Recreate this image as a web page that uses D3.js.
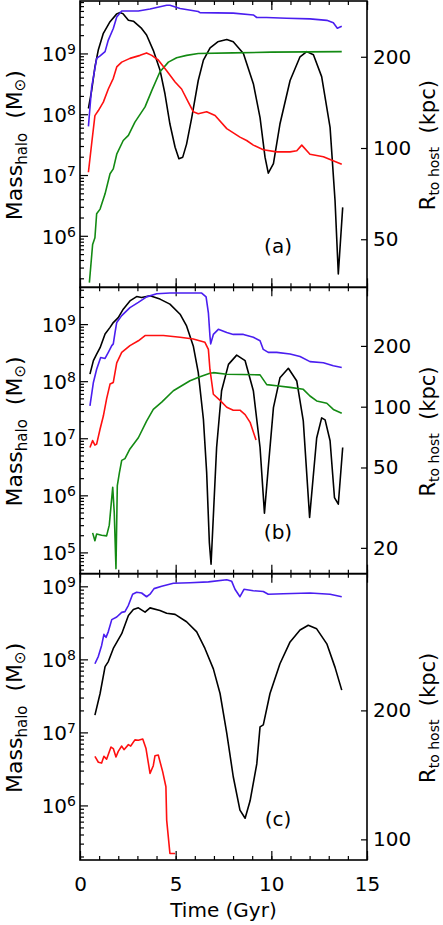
<!DOCTYPE html>
<html>
<head>
<meta charset="utf-8">
<script src="https://cdn.jsdelivr.net/npm/d3@7"></script>
<style>
  body { margin: 0; background: #fff; }
  text { font-family: "DejaVu Sans", sans-serif; fill: #000; }
</style>
</head>
<body>
<svg id="chart" width="443" height="925"></svg>
<script>
// Three stacked panels: halo mass (left log axis) and distance to host (right log axis) vs time

// ---- data: [time (Gyr), value] ----
const blueA = [[0.44,6.3e7],[0.61,2.8e8],[0.87,8.3e8],[1.05,9.1e8],[1.31,1.07e9],[1.48,1.66e9],[1.74,2.57e9],
  [1.92,3.98e9],[2.18,5.0e9],[3.05,5.0e9],[3.66,5.4e9],[4.53,6.2e9],[4.70,6.2e9],[5.23,5.5e9],[6.18,4.9e9],
  [6.27,4.7e9],[8.01,4.6e9],[9.06,4.3e9],[9.24,3.9e9],[9.75,3.9e9],[10.80,3.8e9],[12.02,3.7e9],[12.9,3.5e9],
  [13.24,3.2e9],[13.45,2.6e9],[13.68,2.8e9]];
const redA = [[0.44,1.11e7],[0.61,3.3e7],[0.78,9.5e7],[0.96,1.15e8],[1.22,1.58e8],[1.48,2.6e8],[1.74,3.9e8],
  [1.92,6.0e8],[2.18,7.2e8],[2.61,8.3e8],[3.14,9.3e8],[3.48,1.02e9],[3.75,9.3e8],[4.09,7.8e8],[4.53,5.2e8],
  [4.97,3.4e8],[5.31,2.6e8],[5.66,1.58e8],[5.92,1.10e8],[6.18,1.02e8],[6.62,1.10e8],[7.06,9.5e7],[7.67,5.8e7],
  [8.36,4.2e7],[8.71,3.7e7],[9.06,3.1e7],[9.58,2.6e7],[10.28,2.4e7],[10.98,2.4e7],[11.33,2.5e7],[11.59,3.1e7],
  [12.02,2.2e7],[12.72,2.0e7],[13.68,1.5e7]];
const greenA = [[0.49,1.7e5],[0.66,7.2e5],[0.78,9.3e5],[0.87,2.3e6],[1.05,2.75e6],[1.31,4.9e6],[1.57,1.05e7],
  [1.74,1.26e7],[1.92,2.2e7],[2.26,3.7e7],[2.53,4.5e7],[2.87,7.4e7],[3.40,1.32e8],[3.75,2.45e8],[4.18,5.0e8],
  [4.62,7.2e8],[5.05,8.5e8],[5.57,9.3e8],[6.18,1.0e9],[8.0,1.02e9],[10.0,1.05e9],[13.68,1.07e9]];
const distA = [[0.44,135],[0.61,155],[0.78,185],[0.96,211],[1.22,239],[1.57,261],[1.92,277],[2.09,280],
  [2.26,277],[2.53,264],[2.79,262],[3.22,248],[3.48,236],[3.83,210],[4.18,181],[4.44,151],[4.70,120],
  [4.97,100.6],[5.17,92.2],[5.37,93.3],[5.57,103],[5.84,126],[6.18,167],[6.45,195],[6.8,214],[7.2,224],
  [7.67,228],[8.01,224],[8.54,205],[9.06,163],[9.41,126],[9.67,93.3],[9.84,82.6],[10.11,88.8],[10.45,120],
  [10.98,167],[11.50,200],[11.85,208],[12.20,203],[12.63,172],[13.07,117],[13.33,67],[13.50,38.4],[13.73,63.7]];

const blueB = [[0.52,3.7e7],[0.70,9.5e7],[0.87,1.62e8],[1.08,2.6e8],[1.31,2.5e8],[1.48,3.2e8],[1.66,4.2e8],
  [1.74,4.5e8],[1.83,7.1e8],[1.92,1.07e9],[2.18,1.41e9],[2.61,1.95e9],[3.05,2.4e9],[3.48,3.0e9],[4.01,3.4e9],
  [4.70,3.5e9],[6.36,3.5e9],[6.59,3.0e9],[6.71,1.58e9],[6.79,6.3e8],[6.83,4.5e8],[6.97,6.6e8],[7.23,8.1e8],
  [7.67,7.1e8],[8.01,6.6e8],[8.54,6.6e8],[9.06,5.9e8],[9.41,5.1e8],[9.58,3.6e8],[9.84,3.2e8],[10.28,3.2e8],
  [10.98,3.0e8],[11.50,2.7e8],[12.02,2.2e8],[12.72,2.1e8],[13.24,1.86e8],[13.68,1.74e8]];
const redB = [[0.52,6.9e6],[0.66,9.1e6],[0.78,7.6e6],[0.87,7.9e6],[1.05,1.45e7],[1.22,2.45e7],[1.39,4.9e7],
  [1.57,8.9e7],[1.74,9.5e7],[1.92,2.1e8],[2.18,3.2e8],[2.61,4.2e8],[3.05,5.1e8],[3.40,6.3e8],[4.36,6.3e8],
  [5.23,5.9e8],[5.92,5.5e8],[6.53,4.8e8],[6.71,3.6e8],[6.79,1.62e8],[6.97,5.9e7],[7.32,4.6e7],[7.67,3.5e7],
  [8.01,3.1e7],[8.36,3.1e7],[8.63,2.6e7],[8.89,1.9e7],[9.20,9.3e6]];
const greenB = [[0.66,2.2e5],[0.78,1.6e5],[0.87,2.1e5],[1.13,2.0e5],[1.39,1.95e5],[1.53,3.0e5],[1.71,1.38e6],
  [1.79,5.0e5],[1.88,5.2e4],[1.95,1.48e6],[2.06,2.5e6],[2.18,4.1e6],[2.35,4.4e6],[2.61,6.5e6],[3.05,1.02e7],
  [3.48,2.0e7],[3.83,3.2e7],[4.27,4.3e7],[4.88,6.8e7],[5.75,1.02e8],[6.27,1.2e8],[6.79,1.38e8],[6.97,1.41e8],
  [7.67,1.32e8],[9.41,1.29e8],[9.76,8.7e7],[10.28,8.3e7],[10.98,7.8e7],[11.67,7.2e7],[12.02,5.5e7],
  [12.37,4.5e7],[12.90,4.1e7],[13.24,3.2e7],[13.68,2.75e7]];
const distB = [[0.52,145],[0.70,169],[0.87,182],[1.05,196],[1.31,229],[1.57,247],[1.74,261],[2.00,276],
  [2.26,304],[2.61,334],[2.96,351],[3.22,347],[3.66,354],[4.18,341],[4.70,322],[5.23,287],[5.57,251],
  [5.92,200],[6.18,148],[6.45,86.7],[6.62,47.2],[6.76,21.3],[6.85,16.6],[7.14,62.8],[7.40,120],[7.76,162],
  [8.19,180],[8.63,169],[9.06,120],[9.41,62.8],[9.64,29.7],[9.84,50],[10.11,99],[10.45,139],[10.89,155],
  [11.33,134],[11.67,85],[12.00,28.3],[12.37,70],[12.63,88],[12.81,86],[13.07,67.8],[13.30,35.5],
  [13.50,32.9],[13.73,62.8]];

const blueC = [[0.78,8.7e7],[0.96,1.1e8],[1.13,1.55e8],[1.25,2.2e8],[1.36,2.0e8],[1.48,2.4e8],[1.66,3.5e8],
  [1.92,3.8e8],[2.18,4.4e8],[2.35,4.5e8],[2.53,5.5e8],[2.75,7.8e8],[2.96,8.3e8],[3.22,8.1e8],[3.48,7.2e8],
  [3.66,7.8e8],[3.87,9.3e8],[4.27,1.0e9],[4.88,1.10e9],[5.75,1.12e9],[6.71,1.15e9],[7.67,1.23e9],[7.93,1.17e9],
  [8.10,9.1e8],[8.36,7.2e8],[8.57,9.1e8],[9.06,8.7e8],[9.58,8.5e8],[9.84,7.8e8],[10.63,7.9e8],[12.02,8.1e8],
  [13.07,7.8e8],[13.68,7.2e8]];
const redC = [[0.78,4.7e6],[0.96,3.9e6],[1.13,3.8e6],[1.25,4.7e6],[1.39,4.3e6],[1.62,6.3e6],[1.74,6.0e6],
  [1.88,4.6e6],[2.00,5.5e6],[2.18,6.5e6],[2.30,5.8e6],[2.53,6.8e6],[2.65,6.5e6],[2.87,7.9e6],[3.05,7.8e6],
  [3.28,8.1e6],[3.45,6.0e6],[3.66,2.75e6],[3.83,3.5e6],[3.92,4.8e6],[4.09,4.9e6],[4.32,2.9e6],[4.49,1.8e6],
  [4.53,6.3e5],[4.70,2.2e5],[4.97,2.2e5]];
const distC = [[0.78,195],[1.05,219],[1.31,253],[1.48,260],[1.74,279],[2.18,302],[2.53,333],[2.79,344],
  [3.05,347],[3.40,339],[3.66,347],[4.18,342],[4.53,337],[4.97,335],[5.57,322],[6.10,305],[6.53,279],
  [6.97,250],[7.32,219],[7.67,177],[8.01,140],[8.36,117],[8.63,112],[8.89,123],[9.24,150],[9.41,183],
  [9.58,185],[9.93,219],[10.45,257],[10.98,289],[11.50,308],[11.93,316],[12.37,310],[12.90,286],
  [13.33,252],[13.68,223]];

const timeTicks = [0, 5, 10, 15];
const timeMinorTicks = d3.range(0, 16);
const massTicksA = [1e6, 1e7, 1e8, 1e9];
const massTicksB = [1e5, 1e6, 1e7, 1e8, 1e9];
const massTicksC = [1e6, 1e7, 1e8, 1e9];
const distTicksA = [50, 100, 200];
const distTicksB = [20, 50, 100, 200];
const distTicksC = [100, 200];
const panelLabels = ["(a)", "(b)", "(c)"];

// ---- panel setup (axis ranges) ----
const panels = [
  { label: panelLabels[0], massDomain: [1.42e5, 7.29e9], distDomain: [34.7, 305.5],
    massTicks: massTicksA, distTicks: distTicksA, blue: blueA, red: redA, green: greenA, dist: distA },
  { label: panelLabels[1], massDomain: [4.24e4, 4.41e9], distDomain: [14.9, 390],
    massTicks: massTicksB, distTicks: distTicksB, blue: blueB, red: redB, green: greenB, dist: distB },
  { label: panelLabels[2], massDomain: [1.79e5, 1.49e9], distDomain: [89.5, 417],
    massTicks: massTicksC, distTicks: distTicksC, blue: blueC, red: redC, green: null, dist: distC }
];

const colors = { blue: "#4a1ef0", red: "#ff1010", green: "#138a13", dist: "#000" };

const svg = d3.select("#chart");
const plotLeft = 80, plotRight = 367, plotTop = 1, plotBottom = 860;
const panelH = (plotBottom - plotTop) / panels.length;

const xScale = d3.scaleLinear().domain([0, 15]).range([plotLeft, plotRight]);

function minorLogTicks(domain) {
  const out = [];
  for (let e = Math.floor(Math.log10(domain[0])); e <= Math.ceil(Math.log10(domain[1])); e++) {
    for (let k = 2; k <= 9; k++) {
      const v = k * Math.pow(10, e);
      if (v > domain[0] && v < domain[1]) out.push(v);
    }
  }
  return out;
}

function styleAxis(sel) {
  sel.select(".domain").remove();
  sel.selectAll(".tick line").attr("stroke", "#000").attr("stroke-width", 1.2);
}

panels.forEach((p, i) => {
  const y0 = plotTop + i * panelH;
  const y1 = y0 + panelH;
  const g = svg.append("g").attr("class", "panel");

  const mScale = d3.scaleLog().domain(p.massDomain).range([y1, y0]);
  const rScale = d3.scaleLog().domain(p.distDomain).range([y1, y0]);

  g.append("clipPath").attr("id", "clip" + i)
    .append("rect").attr("x", plotLeft).attr("y", y0)
    .attr("width", plotRight - plotLeft).attr("height", panelH);

  // x ticks on top and bottom of every panel, pointing inward
  [[d3.axisBottom, y1], [d3.axisTop, y0]].forEach(([axisFn, yy]) => {
    g.append("g").attr("transform", `translate(0,${yy})`)
      .call(axisFn(xScale).tickValues(timeMinorTicks).tickSize(-4).tickFormat(""))
      .call(styleAxis);
    g.append("g").attr("transform", `translate(0,${yy})`)
      .call(axisFn(xScale).tickValues(timeTicks).tickSize(-9).tickFormat(""))
      .call(styleAxis);
  });

  // left mass axis
  g.append("g").attr("transform", `translate(${plotLeft},0)`)
    .call(d3.axisLeft(mScale).tickValues(minorLogTicks(p.massDomain)).tickSize(-4).tickFormat(""))
    .call(styleAxis);
  g.append("g").attr("transform", `translate(${plotLeft},0)`)
    .call(d3.axisLeft(mScale).tickValues(p.massTicks).tickSize(-8).tickFormat(""))
    .call(styleAxis);

  p.massTicks.forEach(v => {
    const t = g.append("text")
      .attr("x", plotLeft - 4)
      .attr("y", mScale(v) + 8)
      .attr("text-anchor", "end")
      .style("font-size", "20px");
    t.append("tspan").text("10");
    t.append("tspan").attr("dy", -7).style("font-size", "14px").text(Math.round(Math.log10(v)));
  });

  // right distance axis
  g.append("g").attr("transform", `translate(${plotRight},0)`)
    .call(d3.axisRight(rScale).tickValues(p.distTicks).tickSize(-6).tickPadding(6).tickFormat(d3.format("d")))
    .call(styleAxis)
    .selectAll("text")
    .style("font-size", "20px")
    .style("font-family", "DejaVu Sans, sans-serif");

  // lines
  const massLine = d3.line().x(d => xScale(d[0])).y(d => mScale(d[1]));
  const distLine = d3.line().x(d => xScale(d[0])).y(d => rScale(d[1]));
  const lines = g.append("g").attr("clip-path", `url(#clip${i})`);

  lines.append("path").datum(p.dist).attr("d", distLine)
    .attr("fill", "none").attr("stroke", colors.dist).attr("stroke-width", 1.6)
    .attr("stroke-linejoin", "round");
  ["green", "red", "blue"].filter(key => p[key]).forEach(key => {
    lines.append("path").datum(p[key]).attr("d", massLine)
      .attr("fill", "none").attr("stroke", colors[key]).attr("stroke-width", 1.6)
      .attr("stroke-linejoin", "round");
  });

  // frame
  g.append("rect").attr("x", plotLeft).attr("y", y0)
    .attr("width", plotRight - plotLeft).attr("height", panelH)
    .attr("fill", "none").attr("stroke", "#000").attr("stroke-width", 1.6);

  // panel label
  g.append("text")
    .attr("x", xScale(10.35)).attr("y", y0 + 252)
    .attr("text-anchor", "middle").style("font-size", "20px")
    .text(p.label);

  // left title
  const cy = (y0 + y1) / 2 + 1;
  const lt = g.append("text")
    .attr("transform", `translate(22,${cy}) rotate(-90)`)
    .attr("text-anchor", "middle").style("font-size", "22px");
  lt.append("tspan").text("Mass");
  lt.append("tspan").attr("dy", 5).style("font-size", "15px").text("halo");
  lt.append("tspan").attr("dy", -5).text("\u00a0\u00a0(M");
  lt.append("tspan").attr("dy", 3).style("font-size", "15px").text("\u2299");
  lt.append("tspan").attr("dy", -3).text(")");

  // right title
  const rt = g.append("text")
    .attr("transform", `translate(435,${cy}) rotate(-90)`)
    .attr("text-anchor", "middle").style("font-size", "21px");
  rt.append("tspan").text("R");
  rt.append("tspan").attr("dy", 4).style("font-size", "14px").text("to host");
  rt.append("tspan").attr("dy", -4).text("\u00a0\u00a0(kpc)");

  // bottom x labels only under the last panel
  if (i === panels.length - 1) {
    g.append("g").attr("transform", `translate(0,${y1})`)
      .call(d3.axisBottom(xScale).tickValues(timeTicks).tickSize(0).tickPadding(17).tickFormat(d3.format("d")))
      .call(sel => sel.select(".domain").remove())
      .selectAll("text")
      .style("font-size", "20px")
      .style("font-family", "DejaVu Sans, sans-serif");
    g.append("text")
      .attr("x", (plotLeft + plotRight) / 2).attr("y", 917)
      .attr("text-anchor", "middle").style("font-size", "20px")
      .text("Time (Gyr)");
  }
});
</script>
</body>
</html>
